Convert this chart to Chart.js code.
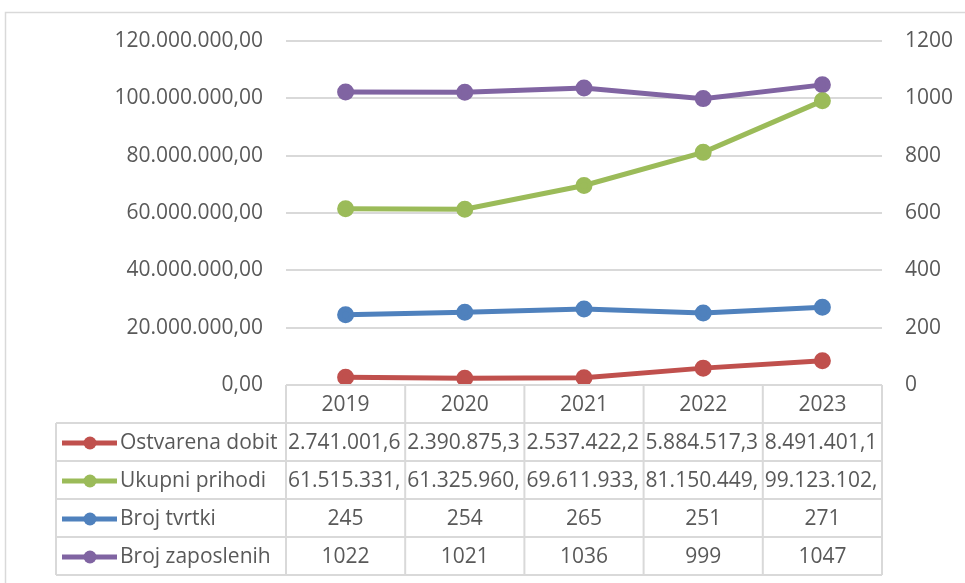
<!DOCTYPE html>
<html>
<head>
<meta charset="utf-8">
<script src="https://cdn.jsdelivr.net/npm/chart.js@4/dist/chart.umd.min.js"></script>
<style>
  body { margin: 0; background: #fff; }
  #wrap { width: 965px; height: 583px; position: relative; }
</style>
</head>
<body>
<div id="wrap"><canvas id="chart" width="965" height="583"></canvas></div>
<script>
// Data
const years = ["2019", "2020", "2021", "2022", "2023"];
const seriesNames = ["Ostvarena dobit", "Ukupni prihodi", "Broj tvrtki", "Broj zaposlenih"];
const dobit = [2741001.6, 2390875.3, 2537422.2, 5884517.3, 8491401.1];
const prihodi = [61515331, 61325960, 69611933, 81150449, 99123102];
const tvrtke = [245, 254, 265, 251, 271];
const zaposleni = [1022, 1021, 1036, 999, 1047];
const leftTicksMax = 120000000;
const rightTicksMax = 1200;

const colors = ["#C0504D", "#9BBB59", "#4F81BD", "#8064A2"];
const textColor = "#595959";
const gridColor = "#d9d9d9";
const font = "'Open Sans', sans-serif";

// hr format: 1.234.567,89
function fmt(v, dec) {
  const parts = v.toFixed(dec).split(".");
  parts[0] = parts[0].replace(/\B(?=(\d{3})+(?!\d))/g, ".");
  return parts.join(",");
}

const tableRows = [
  dobit.map((v) => fmt(v, 2)),
  prihodi.map((v) => fmt(v, 2)),
  tvrtke.map((v) => String(v)),
  zaposleni.map((v) => String(v)),
];

function makeSet(i, data, axis) {
  return {
    label: seriesNames[i],
    data: data,
    yAxisID: axis,
    borderColor: colors[i],
    backgroundColor: colors[i],
    pointBackgroundColor: colors[i],
    pointBorderColor: colors[i],
    borderWidth: 5,
    pointRadius: 6,
    tension: 0,
  };
}

// Data table under the plot + outer chart border
const tablePlugin = {
  id: "dataTable",
  afterDraw(chart) {
    const ctx = chart.ctx;
    const area = chart.chartArea;
    const colW = (area.right - area.left) / years.length;
    const rowH = 38;
    const top = area.bottom;
    const legendLeft = 56;

    ctx.save();
    // outer border
    ctx.strokeStyle = gridColor;
    ctx.lineWidth = 1.5;
    ctx.beginPath();
    ctx.moveTo(5.5, 583);
    ctx.lineTo(5.5, 12.5);
    ctx.lineTo(965, 12.5);
    ctx.stroke();

    // table grid
    ctx.lineWidth = 2;
    ctx.strokeStyle = gridColor;
    ctx.beginPath();
    ctx.moveTo(area.left, top);
    ctx.lineTo(area.right, top);
    for (let r = 1; r <= tableRows.length + 1; r++) {
      ctx.moveTo(legendLeft, top + r * rowH);
      ctx.lineTo(area.right, top + r * rowH);
    }
    for (let c = 0; c <= years.length; c++) {
      const x = area.left + c * colW;
      ctx.moveTo(x, top);
      ctx.lineTo(x, top + (tableRows.length + 1) * rowH);
    }
    ctx.moveTo(legendLeft, top + rowH);
    ctx.lineTo(legendLeft, top + (tableRows.length + 1) * rowH);
    ctx.stroke();

    ctx.font = "21px " + font;
    ctx.fillStyle = textColor;
    ctx.textBaseline = "middle";

    // header
    ctx.textAlign = "center";
    years.forEach((y, c) => {
      ctx.fillText(y, area.left + c * colW + colW / 2, top + rowH / 2 + 1);
    });

    tableRows.forEach((row, r) => {
      const cy = top + (r + 1) * rowH + rowH / 2 + 1;
      // legend key
      ctx.strokeStyle = colors[r];
      ctx.lineWidth = 5;
      ctx.beginPath();
      ctx.moveTo(62, cy);
      ctx.lineTo(117, cy);
      ctx.stroke();
      ctx.fillStyle = colors[r];
      ctx.beginPath();
      ctx.arc(90, cy, 6.5, 0, Math.PI * 2);
      ctx.fill();

      ctx.fillStyle = textColor;
      ctx.textAlign = "left";
      ctx.fillText(seriesNames[r], 120, cy);

      row.forEach((txt, c) => {
        const x0 = area.left + c * colW;
        let s = txt;
        if (ctx.measureText(s).width > colW - 3) {
          // cut at whole characters like the spreadsheet does
          while (s.length > 1 && ctx.measureText(s).width > colW - 3) {
            s = s.slice(0, -1);
          }
          ctx.textAlign = "left";
          ctx.fillText(s, x0 + 2, cy);
        } else {
          ctx.textAlign = "center";
          ctx.fillText(s, x0 + colW / 2, cy);
        }
      });
    });
    ctx.restore();
  },
};

new Chart(document.getElementById("chart"), {
  type: "line",
  data: {
    labels: years,
    datasets: [
      makeSet(0, dobit, "y"),
      makeSet(1, prihodi, "y"),
      makeSet(2, tvrtke, "y1"),
      makeSet(3, zaposleni, "y1"),
    ],
  },
  options: {
    responsive: false,
    animation: false,
    layout: {
      padding: { top: 41, bottom: 198, left: 0, right: 0 },
    },
    plugins: {
      legend: { display: false },
      tooltip: { enabled: false },
    },
    scales: {
      x: {
        display: false,
        offset: true,
      },
      y: {
        position: "left",
        min: 0,
        max: leftTicksMax,
        ticks: {
          stepSize: 20000000,
          padding: 23,
          color: textColor,
          font: { family: font, size: 21 },
          callback: (v) => fmt(v, 2),
        },
        grid: { color: gridColor, lineWidth: 2, drawTicks: false },
        border: { display: false },
        afterFit: (scale) => {
          scale.width = 286;
        },
      },
      y1: {
        position: "right",
        min: 0,
        max: rightTicksMax,
        ticks: {
          stepSize: 200,
          padding: 23,
          color: textColor,
          font: { family: font, size: 21 },
          callback: (v) => String(v),
        },
        grid: { display: false, drawTicks: false },
        border: { display: false },
        afterFit: (scale) => {
          scale.width = 83;
        },
      },
    },
  },
  plugins: [tablePlugin],
});
</script>
</body>
</html>
